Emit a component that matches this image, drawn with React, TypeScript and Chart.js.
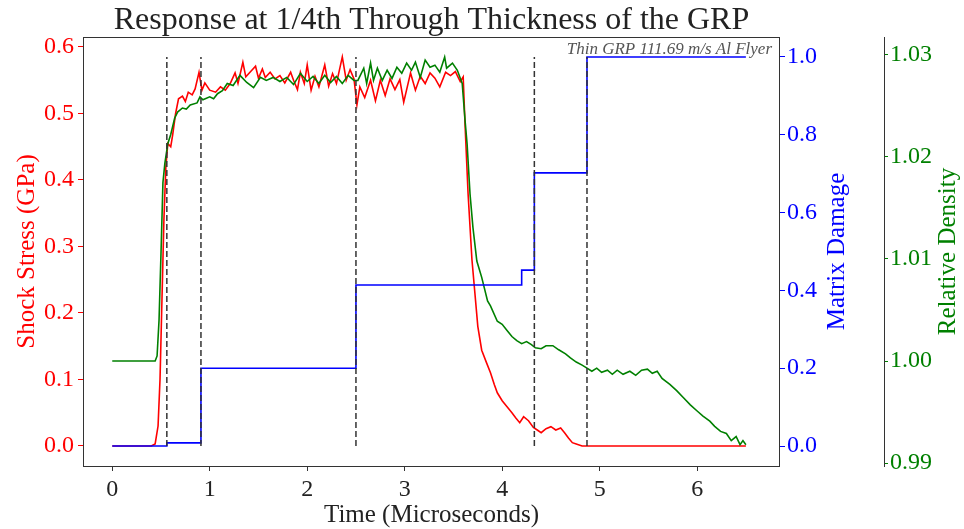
import React, { useEffect, useRef } from "react";
import { Chart, registerables } from "chart.js";

Chart.register(...registerables);

// ---- Data ----
const stressTime = [
  0, 0.4, 0.44, 0.47, 0.49, 0.51, 0.53, 0.55, 0.57, 0.6, 0.62, 0.65, 0.68, 0.72, 0.75, 0.78, 0.82, 0.85, 0.89, 0.92,
  0.95, 1.0, 1.06, 1.11, 1.16, 1.21, 1.26, 1.29, 1.34, 1.37, 1.42, 1.47, 1.5, 1.54, 1.57, 1.62, 1.67, 1.72, 1.77, 1.83,
  1.86, 1.9, 1.93, 1.97, 2.0, 2.04, 2.08, 2.12, 2.18, 2.22, 2.26, 2.3, 2.36, 2.4, 2.44, 2.48, 2.51, 2.54, 2.59, 2.65,
  2.7, 2.75, 2.8, 2.85, 2.9, 2.95, 2.99, 3.06, 3.11, 3.16, 3.21, 3.26, 3.31, 3.36, 3.42, 3.47, 3.52, 3.57, 3.6, 3.62,
  3.65, 3.69, 3.72, 3.75, 3.79, 3.84, 3.88, 3.92, 3.95, 4.0, 4.05, 4.1, 4.14, 4.18, 4.22, 4.27, 4.32, 4.36, 4.4, 4.45,
  4.5, 4.55, 4.6, 4.64, 4.68, 4.72, 4.76, 4.82, 6.5,
];
const stressValue = [
  0, 0, 0.003, 0.03, 0.1, 0.22, 0.34, 0.42, 0.455, 0.45, 0.468, 0.5, 0.522, 0.526, 0.518, 0.532, 0.528, 0.537, 0.562, 0.535,
  0.546, 0.535, 0.532, 0.54, 0.535, 0.545, 0.561, 0.545, 0.577, 0.555, 0.563, 0.571, 0.553, 0.567, 0.554, 0.562, 0.552, 0.557, 0.546, 0.562,
  0.55, 0.536, 0.562, 0.545, 0.573, 0.535, 0.556, 0.54, 0.573, 0.541, 0.56, 0.545, 0.585, 0.55, 0.566, 0.552, 0.513, 0.54, 0.524, 0.55,
  0.519, 0.55, 0.527, 0.552, 0.536, 0.551, 0.517, 0.561, 0.535, 0.556, 0.545, 0.561, 0.553, 0.54, 0.562, 0.557, 0.563, 0.548, 0.555, 0.48,
  0.38, 0.28, 0.23, 0.18, 0.144, 0.125, 0.11, 0.092, 0.08, 0.068, 0.059, 0.05, 0.042, 0.035, 0.044, 0.038, 0.028, 0.024, 0.02, 0.026,
  0.029, 0.024, 0.027, 0.02, 0.012, 0.005, 0.003, 0, 0,
];

const densityTime = [
  0, 0.44, 0.46, 0.48, 0.5, 0.52, 0.54, 0.57, 0.6, 0.64, 0.67, 0.72, 0.76, 0.8, 0.87, 0.9, 0.93, 1.0, 1.04, 1.08,
  1.13, 1.18, 1.24, 1.31, 1.38, 1.45, 1.52, 1.58, 1.65, 1.72, 1.79, 1.86, 1.93, 2.0, 2.06, 2.12, 2.18, 2.24, 2.3, 2.36,
  2.42, 2.48, 2.52, 2.58, 2.61, 2.65, 2.68, 2.72, 2.77, 2.82, 2.87, 2.92, 2.97, 3.02, 3.07, 3.11, 3.16, 3.21, 3.26, 3.31,
  3.36, 3.41, 3.43, 3.49, 3.54, 3.59, 3.62, 3.64, 3.67, 3.7, 3.74, 3.79, 3.85, 3.88, 3.95, 4.0, 4.05, 4.1, 4.15, 4.2,
  4.25, 4.3, 4.34, 4.4, 4.45, 4.52, 4.58, 4.65, 4.7, 4.76, 4.82, 4.87, 4.92, 4.97, 5.02, 5.08, 5.13, 5.18, 5.24, 5.31,
  5.37, 5.43, 5.49, 5.54, 5.59, 5.64, 5.72, 5.79, 5.86, 5.93, 6.0, 6.06, 6.13, 6.18, 6.24, 6.3, 6.35, 6.4, 6.44, 6.47,
  6.5,
];
const densityValue = [
  1.0, 1.0, 1.0005, 1.004, 1.0105, 1.0175, 1.0194, 1.0213, 1.0222, 1.0238, 1.0244, 1.0248, 1.0247, 1.0251, 1.0253, 1.0259, 1.0256, 1.0259, 1.0257, 1.0262,
  1.0265, 1.0272, 1.027, 1.028, 1.0273, 1.0268, 1.0278, 1.0275, 1.0278, 1.0274, 1.0278, 1.0271, 1.0282, 1.0274, 1.0279, 1.0272, 1.028, 1.0273, 1.0279, 1.0272,
  1.028, 1.0275, 1.0275, 1.0287, 1.0272, 1.0292, 1.0275, 1.0287, 1.0275, 1.0285, 1.0277, 1.0288, 1.0282, 1.0292, 1.0285, 1.0293, 1.0278, 1.0295, 1.0288, 1.029,
  1.0283, 1.0298, 1.0287, 1.0292, 1.0285, 1.0272, 1.0235, 1.0213, 1.0164, 1.0131, 1.0098, 1.0082, 1.0059, 1.0054, 1.0039, 1.0036, 1.003, 1.0024, 1.002, 1.0017,
  1.0019, 1.0016, 1.0013, 1.0012, 1.0015, 1.0015, 1.0011, 1.0007, 1.0003, 0.9999, 0.9996, 0.9993, 0.999, 0.9993, 0.9989, 0.9991, 0.9987, 0.9991, 0.9987, 0.999,
  0.9986, 0.9991, 0.9992, 0.9988, 0.999, 0.9983, 0.9977, 0.9971, 0.9964, 0.9957, 0.9951, 0.9946, 0.9941, 0.9936, 0.9931, 0.9929, 0.9922, 0.9926, 0.9918, 0.9922,
  0.9918,
];

const damageTime = [0, 0.56, 0.91, 2.5, 4.2, 4.33, 4.87, 6.5];
const damageValue = [0, 0.008, 0.2, 0.414, 0.452, 0.702, 1.0, 1.0];

const eventTimes = [0.56, 0.91, 2.5, 4.33, 4.87];

const xTicks = [0, 1, 2, 3, 4, 5, 6];
const stressTicks = [0, 0.1, 0.2, 0.3, 0.4, 0.5, 0.6];
const damageTicks = [0, 0.2, 0.4, 0.6, 0.8, 1.0];
const densityTicks = [0.99, 1.0, 1.01, 1.02, 1.03];

const TITLE = "Response at 1/4th Through Thickness of the GRP";
const NOTE = "Thin GRP 111.69 m/s Al Flyer";

const RED = "#ff0000";
const BLUE = "#0000ff";
const GREEN = "#008000";
const FONT = "'Liberation Serif', 'Times New Roman', serif";

const pts = (xs: number[], ys: number[]) => xs.map((x, i) => ({ x, y: ys[i] }));

const decorPlugin = {
  id: "decor",
  afterDraw(chart: any) {
    const { ctx, chartArea } = chart;
    const { left, right, top, bottom } = chartArea;
    const cx = (left + right) / 2;
    const cy = (top + bottom) / 2;
    ctx.save();
    // frame
    ctx.strokeStyle = "#333";
    ctx.lineWidth = 1;
    ctx.strokeRect(Math.round(left) + 0.5, Math.round(top) + 0.5, Math.round(right - left) - 1, Math.round(bottom - top));
    // title
    ctx.fillStyle = "#222";
    ctx.font = `32px ${FONT}`;
    ctx.textAlign = "center";
    ctx.textBaseline = "alphabetic";
    ctx.fillText(TITLE, cx, 29);
    // note
    ctx.font = `italic 17px ${FONT}`;
    ctx.fillStyle = "#555";
    ctx.textAlign = "right";
    ctx.fillText(NOTE, right - 8, 54);
    // x title
    ctx.font = `25px ${FONT}`;
    ctx.fillStyle = "#222";
    ctx.textAlign = "center";
    ctx.textBaseline = "middle";
    ctx.fillText("Time (Microseconds)", cx, 515);
    // y titles
    const vtitle = (text: string, x: number, color: string) => {
      ctx.save();
      ctx.translate(x, cy);
      ctx.rotate(-Math.PI / 2);
      ctx.fillStyle = color;
      ctx.font = `25px ${FONT}`;
      ctx.textAlign = "center";
      ctx.textBaseline = "middle";
      ctx.fillText(text, 0, 0);
      ctx.restore();
    };
    vtitle("Shock Stress (GPa)", 27, RED);
    vtitle("Matrix Damage", 837, BLUE);
    vtitle("Relative Density", 948, GREEN);
    ctx.restore();
  },
};

export default function App() {
  const ref = useRef<HTMLCanvasElement | null>(null);
  useEffect(() => {
    if (!ref.current) return;
    const tickFont = { family: FONT, size: 24 };
    const setTicks = (vals: number[]) => (scale: any) => {
      scale.ticks = vals.map((v) => ({ value: v }));
    };
    const datasets: any[] = [
      ...eventTimes.map((t) => ({
        label: "event",
        data: [
          { x: t, y: 0 },
          { x: t, y: 1 },
        ],
        yAxisID: "y1",
        borderColor: "#333",
        borderWidth: 1.5,
        borderDash: [6, 3],
        pointRadius: 0,
        order: 0,
      })),
      {
        label: "Matrix Damage",
        data: pts(damageTime, damageValue),
        yAxisID: "y1",
        borderColor: BLUE,
        borderWidth: 1.6,
        stepped: "before",
        pointRadius: 0,
        order: 1,
      },
      {
        label: "Relative Density",
        data: pts(densityTime, densityValue),
        yAxisID: "y2",
        borderColor: GREEN,
        borderWidth: 1.6,
        pointRadius: 0,
        order: 2,
      },
      {
        label: "Shock Stress",
        data: pts(stressTime, stressValue),
        yAxisID: "y",
        borderColor: RED,
        borderWidth: 1.6,
        pointRadius: 0,
        order: 3,
      },
    ];
    const chart = new Chart(ref.current, {
      type: "line",
      data: { datasets },
      options: {
        animation: false,
        responsive: false,
        events: [],
        layout: { padding: { top: 37, left: 0, right: 0, bottom: 0 } },
        plugins: { legend: { display: false }, tooltip: { enabled: false }, title: { display: false } },
        scales: {
          x: {
            type: "linear",
            min: -0.3,
            max: 6.85,
            afterBuildTicks: setTicks(xTicks),
            afterFit: (s: any) => {
              s.height = 63;
            },
            grid: { drawOnChartArea: false, drawTicks: true, tickLength: 5, color: "#333" },
            border: { display: false },
            ticks: { color: "#222", font: tickFont, padding: 4, maxRotation: 0, callback: (v: any) => String(v) },
          },
          y: {
            type: "linear",
            position: "left",
            min: -0.0301,
            max: 0.615,
            afterBuildTicks: setTicks(stressTicks),
            afterFit: (s: any) => {
              s.width = 83;
            },
            grid: { drawOnChartArea: false, drawTicks: true, tickLength: 5, color: RED },
            border: { display: false },
            ticks: { color: RED, font: tickFont, padding: 4, callback: (v: any) => Number(v).toFixed(1) },
          },
          y1: {
            type: "linear",
            position: "right",
            weight: 1,
            min: -0.0514,
            max: 1.0514,
            afterBuildTicks: setTicks(damageTicks),
            afterFit: (s: any) => {
              s.width = 104;
            },
            grid: { drawOnChartArea: false, drawTicks: true, tickLength: 5, color: BLUE },
            border: { display: false },
            ticks: { color: BLUE, font: tickFont, padding: 2, callback: (v: any) => Number(v).toFixed(1) },
          },
          y2: {
            type: "linear",
            position: "right",
            weight: 2,
            min: 0.98971,
            max: 1.03176,
            afterBuildTicks: setTicks(densityTicks),
            afterFit: (s: any) => {
              s.width = 80;
            },
            grid: { drawOnChartArea: false, drawTicks: true, tickLength: 4, color: GREEN },
            border: { display: true, color: "#333", width: 1 },
            ticks: { color: GREEN, font: tickFont, padding: 2, callback: (v: any) => Number(v).toFixed(2) },
          },
        },
      } as any,
      plugins: [decorPlugin],
    });
    return () => chart.destroy();
  }, []);
  return (
    <div style={{ position: "absolute", left: 0, top: 0, width: 964, height: 529, background: "#fff" }}>
      <canvas ref={ref} width={964} height={529} style={{ display: "block" }} />
    </div>
  );
}
